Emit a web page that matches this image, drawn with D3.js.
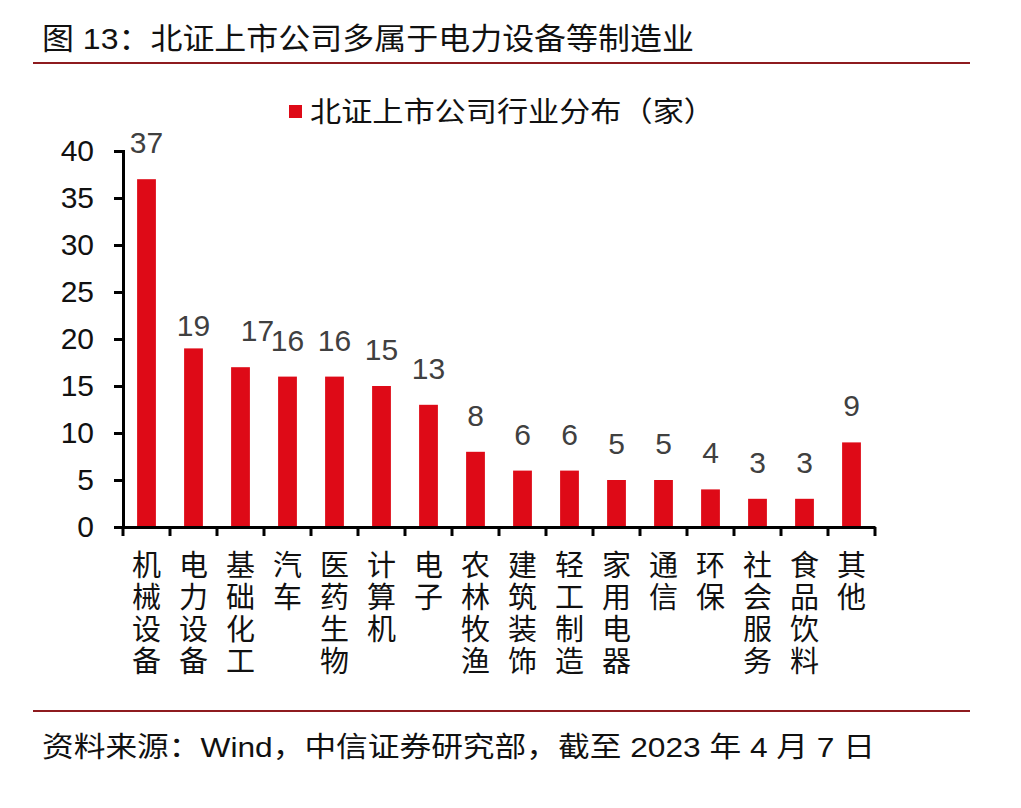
<!DOCTYPE html>
<html><head><meta charset="utf-8">
<script src="https://cdn.jsdelivr.net/npm/d3@7"></script>
<style>
body{margin:0;background:#fff;}
text{font-family:"Liberation Sans","Noto Sans CJK SC",sans-serif;}
</style></head>
<body>
<svg id="c" width="1021" height="808"></svg>
<script>
const categories = ["机械设备","电力设备","基础化工","汽车","医药生物","计算机","电子","农林牧渔","建筑装饰","轻工制造","家用电器","通信","环保","社会服务","食品饮料","其他"];
const values = [37,19,17,16,16,15,13,8,6,6,5,5,4,3,3,9];
const yTicks = [0,5,10,15,20,25,30,35,40];
const seriesName = "北证上市公司行业分布（家）";
const titleText = "图 13：北证上市公司多属于电力设备等制造业";
const sourceText = "资料来源：Wind，中信证券研究部，截至 2023 年 4 月 7 日";

const svg = d3.select("#c");
const red = "#DE0A17", lineRed = "#8E1B1F";

svg.append("text").attr("x",42).attr("y",49).attr("font-size",30).attr("fill","#111")
  .attr("textLength",652).attr("lengthAdjust","spacingAndGlyphs").text(titleText);
svg.append("line").attr("x1",33).attr("x2",970).attr("y1",63).attr("y2",63).attr("stroke",lineRed).attr("stroke-width",2);
svg.append("line").attr("x1",33).attr("x2",970).attr("y1",711).attr("y2",711).attr("stroke",lineRed).attr("stroke-width",2);
svg.append("text").attr("x",42).attr("y",757).attr("font-size",28).attr("fill","#111")
  .attr("textLength",833).attr("lengthAdjust","spacingAndGlyphs").text(sourceText);

// legend
svg.append("rect").attr("x",289).attr("y",105).attr("width",13).attr("height",13).attr("fill",red);
svg.append("text").attr("x",310).attr("y",122).attr("font-size",28).attr("fill","#111")
  .attr("textLength",405).attr("lengthAdjust","spacingAndGlyphs").text(seriesName);

const x = d3.scaleBand().domain(categories).range([123,875]).paddingInner(0.6).paddingOuter(0.3);
const y = d3.scaleLinear().domain([0,40]).range([527,151]);

svg.selectAll("rect.bar").data(values).join("rect").attr("class","bar")
  .attr("x",(d,i)=>x(categories[i])).attr("width",x.bandwidth())
  .attr("y",d=>y(d)).attr("height",d=>y(0)-y(d)).attr("fill",red);

// data labels (a couple were hand-nudged in the original chart)
const nudge = {"电力设备":{dx:0,dy:14},"基础化工":{dx:17,dy:0}};
svg.selectAll("text.val").data(values).join("text").attr("class","val")
  .attr("x",(d,i)=>x(categories[i])+x.bandwidth()/2+((nudge[categories[i]]||{}).dx||0))
  .attr("y",(d,i)=>y(d)-26+((nudge[categories[i]]||{}).dy||0))
  .attr("text-anchor","middle").attr("font-size",30).attr("fill","#404040").text(d=>d);

// y axis
const yAxis = svg.append("g").attr("transform","translate(123,0)")
  .call(d3.axisLeft(y).tickValues(yTicks).tickSize(9).tickPadding(20));
yAxis.select(".domain").attr("stroke","#000").attr("stroke-width",3);
yAxis.selectAll(".tick line").attr("stroke","#000").attr("stroke-width",3);
yAxis.selectAll(".tick text").attr("font-size",30).attr("fill","#111").attr("font-family",null);

// x axis
const xAxis = svg.append("g").attr("transform","translate(0,527)")
  .call(d3.axisBottom(x).tickSize(0).tickFormat(""));
xAxis.select(".domain").attr("stroke","#000").attr("stroke-width",3);
const bounds = d3.range(categories.length+1).map(i=>123 + i*x.step());
xAxis.selectAll("line.bt").data(bounds).join("line").attr("class","bt")
  .attr("x1",d=>d).attr("x2",d=>d).attr("y1",0).attr("y2",9).attr("stroke","#000").attr("stroke-width",3);

// category labels, vertical one char per line
categories.forEach((c,i)=>{
  const t = svg.append("text").attr("text-anchor","middle").attr("font-size",29).attr("fill","#111");
  Array.from(c).forEach((ch,j)=>{
    t.append("tspan").attr("x",x(c)+x.bandwidth()/2).attr("y",576+j*32).text(ch);
  });
});
</script>
</body></html>
